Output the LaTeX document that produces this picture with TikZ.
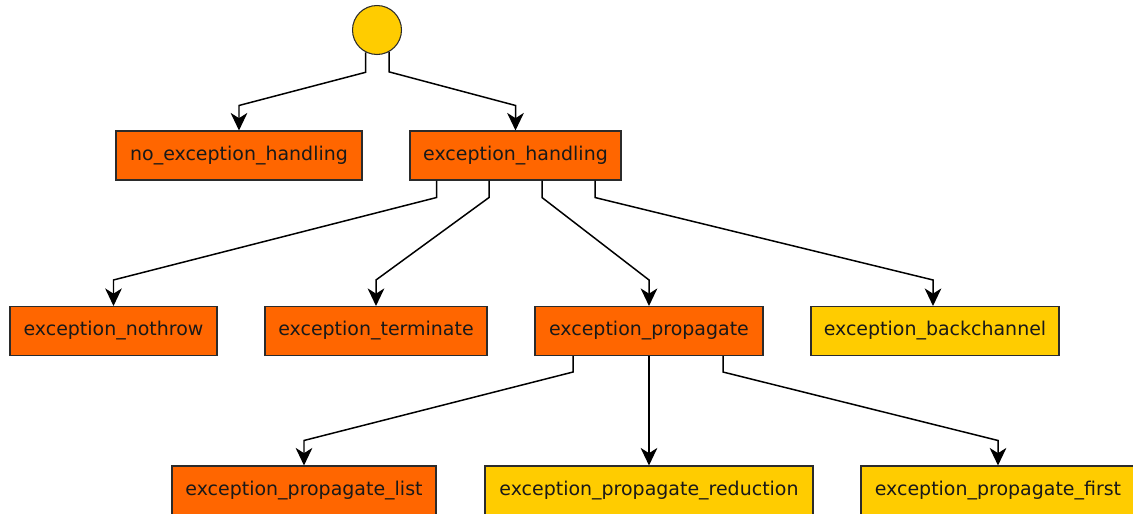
\documentclass[tikz,border=0pt]{standalone}
\usepackage{fontspec}
\setmainfont{DejaVu Sans}
\usepackage{xcolor}
\usepackage{tikz}
\usetikzlibrary{calc, positioning, arrows.meta, shapes.geometric}
\definecolor{featOrange}{HTML}{FF6600}
\definecolor{featYellow}{HTML}{FFCC00}
\definecolor{featLine}{HTML}{2B2B2B}
\tikzset{
    feature/.style={rectangle, draw=featLine, line width=0.6pt, minimum height=0.98cm, inner sep=0pt, text=black!90, font=\fontsize{10.8}{13}\selectfont},
    orangeBox/.style={feature, fill=featOrange},
    yellowBox/.style={feature, fill=featYellow},
    rootDot/.style={circle, draw=featLine, line width=0.6pt, fill=featYellow, minimum size=0.98cm, inner sep=0pt},
    edge/.style={-{Stealth[length=10pt, width=9.5pt, inset=3pt]}, line width=0.85pt, black}
}

\begin{document}
\begin{tikzpicture}[x=0.02cm, y=-0.02cm]
    \useasboundingbox (0,0) rectangle (1133,514);

    % Root
    \node[rootDot] (root) at (377,30) {};

    % First level
    \node[orangeBox, minimum width=246*0.02cm] (noHandling) at (239,155.5) {no\_exception\_handling};
    \node[orangeBox, minimum width=211*0.02cm] (handling) at (515.5,155.5) {exception\_handling};

    % Second level
    \node[orangeBox, minimum width=207*0.02cm] (nothrow) at (113.5,331) {exception\_nothrow};
    \node[orangeBox, minimum width=222*0.02cm] (terminate) at (376,331) {exception\_terminate};
    \node[orangeBox, minimum width=228*0.02cm] (propagate) at (649,331) {exception\_propagate};
    \node[yellowBox, minimum width=248*0.02cm] (backchannel) at (935,331) {exception\_backchannel};

    % Third level
    \node[orangeBox, minimum width=264*0.02cm] (propList) at (304,490.5) {exception\_propagate\_list};
    \node[yellowBox, minimum width=328*0.02cm] (propReduction) at (649,490.5) {exception\_propagate\_reduction};
    \node[yellowBox, minimum width=274*0.02cm] (propFirst) at (998,490.5) {exception\_propagate\_first};

    % Connections from root
    \draw[edge] (root.-117) -- ++(0,20) -- ($(noHandling.north)+(0,-25)$) -- (noHandling.north);
    \draw[edge] (root.-61) -- ++(0,20) -- ($(handling.north)+(0,-25)$) -- (handling.north);

    % Connections from exception_handling
    \draw[edge] ($(handling.south)+(-79,0)$) -- ++(0,17) -- ($(nothrow.north)+(0,-26)$) -- (nothrow.north);
    \draw[edge] ($(handling.south)+(-26.5,0)$) -- ++(0,17) -- ($(terminate.north)+(0,-26)$) -- (terminate.north);
    \draw[edge] ($(handling.south)+(26.5,0)$) -- ++(0,17) -- ($(propagate.north)+(0,-26)$) -- (propagate.north);
    \draw[edge] ($(handling.south)+(79.5,0)$) -- ++(0,17) -- ($(backchannel.north)+(-2,-26)$) -- ($(backchannel.north)+(-2,0)$);

    % Connections from exception_propagate
    \draw[edge] ($(propagate.south)+(-76,0)$) -- ++(0,16) -- ($(propList.north)+(0,-25)$) -- (propList.north);
    \draw[edge] (propagate.south) -- (propReduction.north);
    \draw[edge] ($(propagate.south)+(74,0)$) -- ++(0,16) -- ($(propFirst.north)+(0,-25)$) -- (propFirst.north);

\end{tikzpicture}
\end{document}
